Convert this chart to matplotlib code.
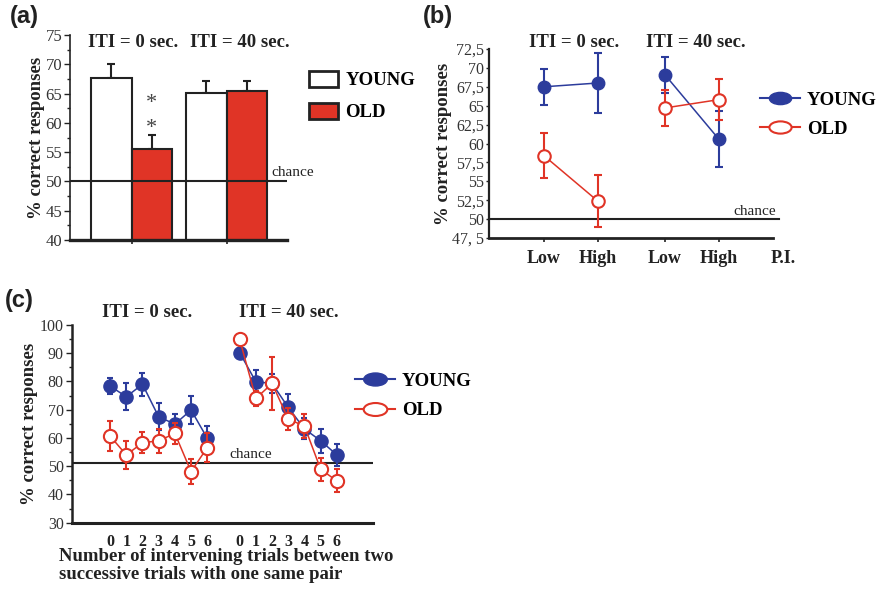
import numpy as np
import matplotlib
matplotlib.use('Agg')
import matplotlib.pyplot as plt
from matplotlib.path import Path
from matplotlib.transforms import Affine2D
from matplotlib.lines import Line2D
from matplotlib.patches import Patch

plt.rcParams['font.family'] = ['Liberation Serif', 'DejaVu Serif']

BLUE = '#2c3c9c'
RED = '#e03426'
INK = '#222222'

iti_titles = ['ITI = 0 sec.', 'ITI = 40 sec.']

# (a) overall % correct per ITI condition
bar_young = [67.7, 65.1]
bar_young_err = [2.4, 2.1]
bar_old = [55.6, 65.4]
bar_old_err = [2.3, 1.8]

# (b) low / high proactive interference
pi_labels = ['Low', 'High', 'Low', 'High']
pi_young = [67.5, 68.0, 69.1, 60.6]
pi_young_err = [2.4, 4.0, 2.4, 3.7]
pi_old = [58.4, 52.4, 64.7, 65.8]
pi_old_err = [3.0, 3.4, 2.4, 2.7]
pi_yticks = [47.5, 50, 52.5, 55, 57.5, 60, 62.5, 65, 67.5, 70, 72.5]
pi_ylabels = ['47, 5', '50', '52,5', '55', '57,5', '60', '62,5', '65',
              '67,5', '70', '72,5']

# (c) by number of intervening trials
lag = [0, 1, 2, 3, 4, 5, 6]
young_0 = [78.4, 74.6, 79.0, 67.5, 64.9, 69.9, 59.9]
young_0_err = [3.0, 4.7, 4.0, 4.8, 3.5, 5.0, 4.3]
old_0 = [60.7, 54.0, 58.3, 59.0, 61.6, 48.1, 56.6]
old_0_err = [5.3, 5.0, 3.7, 4.3, 3.8, 4.5, 5.0]
young_40 = [90.2, 79.9, 79.3, 70.8, 63.2, 59.0, 54.0]
young_40_err = [1.5, 4.2, 3.4, 4.7, 3.7, 4.2, 4.0]
old_40 = [94.9, 74.0, 79.3, 66.7, 64.2, 48.9, 44.8]
old_40_err = [1.5, 2.6, 9.5, 3.9, 4.3, 4.0, 4.1]

chance_a = 50
chance_b = 50
chance_c = 51

# wide ellipse used as legend marker
ellipse = Path.unit_circle().transformed(Affine2D().scale(1.0, 0.55))

fig = plt.figure(figsize=(8.78, 5.91), dpi=100)


def style_axes(ax, lw_left, lw_bottom):
    for s in ['top', 'right']:
        ax.spines[s].set_visible(False)
    ax.spines['left'].set_linewidth(lw_left)
    ax.spines['bottom'].set_linewidth(lw_bottom)
    ax.spines['left'].set_color(INK)
    ax.spines['bottom'].set_color(INK)


bold = dict(fontweight='bold', fontsize=13.5, color=INK)

# ---------------- (a) ----------------
ax = fig.add_axes([70/878, 1-240/591, 217/878, 205/591])
style_axes(ax, 1.2, 2.4)
xa_young = [1, 3.35]
xa_old = [2, 4.35]
ax.bar(xa_young, bar_young, width=1, bottom=0, color='white', edgecolor=INK,
       linewidth=1.5, zorder=2)
ax.bar(xa_old, bar_old, width=1, color=RED, edgecolor=INK, linewidth=1.5, zorder=2)
ax.errorbar(xa_young, bar_young, yerr=[[0, 0], bar_young_err], fmt='none',
            ecolor=INK, elinewidth=1.5, capsize=3, capthick=1.5, zorder=1)
ax.errorbar(xa_old, bar_old, yerr=[[0, 0], bar_old_err], fmt='none',
            ecolor=INK, elinewidth=1.5, capsize=3, capthick=1.5, zorder=1)
ax.axhline(chance_a, color=INK, lw=1.5, zorder=3)
ax.set_xlim(-0.02, 5.34)
ax.set_ylim(40, 75)
ax.set_yticks(np.arange(40, 76, 5))
ax.set_yticks(np.arange(42.5, 75, 5), minor=True)
ax.set_xticks([1.5, 3.85])
ax.set_xticklabels([])
ax.tick_params(axis='y', which='major', length=4, width=1, pad=1.5,
               labelsize=12, labelcolor='#333333', color=INK)
ax.tick_params(axis='y', which='minor', length=2.5, width=1, color=INK)
ax.tick_params(axis='x', length=3, width=1.2, color=INK)
ax.set_ylabel('% correct responses', fontweight='bold', fontsize=13.5,
              color=INK, labelpad=0.5)
ax.text(0.29, 0.965, iti_titles[0], transform=ax.transAxes, ha='center',
        va='center', **bold)
ax.text(0.783, 0.965, iti_titles[1], transform=ax.transAxes, ha='center',
        va='center', **bold)
ax.text(0.93, chance_a + 0.4, 'chance', transform=ax.get_yaxis_transform(),
        ha='left', va='bottom', fontsize=11, color=INK)
for ys in [0.665, 0.545]:
    ax.text(0.375, ys, '*', transform=ax.transAxes, ha='center', va='center',
            fontsize=16, color='#444444')
ax.legend(handles=[Patch(facecolor='white', edgecolor=INK, lw=2, label='YOUNG'),
                   Patch(facecolor=RED, edgecolor=INK, lw=2, label='OLD')],
          loc='upper left', bbox_to_anchor=(1.1, 0.825), frameon=False,
          borderpad=0, borderaxespad=0, handlelength=1.55, handleheight=0.95,
          handletextpad=0.4, labelspacing=0.7,
          prop=dict(weight='bold', size=13.5))
fig.text(10/878, 1-17/591, '(a)', family='Liberation Sans', fontweight='bold',
         fontsize=17, va='center', ha='left', color=INK)

# ---------------- (b) ----------------
ax = fig.add_axes([489/878, 1-238/591, 284/878, 189/591])
style_axes(ax, 1.6, 2.0)
xb = [1, 2, 3.25, 4.25]
for sl in [slice(0, 2), slice(2, 4)]:
    ax.errorbar(xb[sl], pi_young[sl], yerr=pi_young_err[sl], color=BLUE,
                lw=1.1, marker='o', ms=9, mfc=BLUE, mec=BLUE, elinewidth=1.5,
                capsize=3, capthick=1.5, zorder=3)
    ax.errorbar(xb[sl], pi_old[sl], yerr=pi_old_err[sl], color=RED,
                lw=1.1, marker='o', ms=9, mfc='white', mec=RED, mew=1.5,
                elinewidth=1.5, capsize=3, capthick=1.5, zorder=4)
ax.axhline(chance_b, xmin=0, xmax=1.02, color=INK, lw=1.5, clip_on=False)
ax.set_xlim(-0.02, 5.26)
ax.set_ylim(47.5, 72.5)
ax.set_yticks(pi_yticks)
ax.set_yticklabels(pi_ylabels)
ax.set_xticks(xb)
ax.set_xticklabels(pi_labels, fontweight='bold', fontsize=13)
ax.tick_params(axis='y', length=2.5, width=1, pad=1, labelsize=11.5,
               labelcolor='#333333', color=INK)
ax.tick_params(axis='x', length=3, width=1.2, pad=6, labelcolor=INK, color=INK)
ax.set_ylabel('% correct responses', fontweight='bold', fontsize=13.5,
              color=INK, labelpad=0)
ax.text(1.035, -0.11, 'P.I.', transform=ax.transAxes, ha='center',
        va='center', fontweight='bold', fontsize=13, color=INK)
ax.text(0.30, 1.037, iti_titles[0], transform=ax.transAxes, ha='center',
        va='center', **bold)
ax.text(0.729, 1.037, iti_titles[1], transform=ax.transAxes, ha='center',
        va='center', **bold)
ax.text(1.01, chance_b + 0.1, 'chance', transform=ax.get_yaxis_transform(),
        ha='right', va='bottom', fontsize=11, color=INK)
ax.legend(handles=[Line2D([], [], color=BLUE, lw=1.5, marker=ellipse, ms=16,
                          mfc=BLUE, mec=BLUE, label='YOUNG'),
                   Line2D([], [], color=RED, lw=1.5, marker=ellipse, ms=16,
                          mfc='white', mec=RED, mew=1.5, label='OLD')],
          loc='upper left', bbox_to_anchor=(0.954, 0.775), frameon=False,
          borderpad=0, borderaxespad=0, handlelength=2.15,
          handletextpad=0.35, labelspacing=0.65,
          prop=dict(weight='bold', size=13.5))
fig.text(423/878, 1-17/591, '(b)', family='Liberation Sans', fontweight='bold',
         fontsize=17, va='center', ha='left', color=INK)

# ---------------- (c) ----------------
ax = fig.add_axes([72/878, 1-522.7/591, 301/878, 197.7/591])
style_axes(ax, 1.8, 2.2)
x0 = np.array(lag)
x40 = np.array(lag) + 8
for xs, yv, ye in [(x0, young_0, young_0_err), (x40, young_40, young_40_err)]:
    ax.errorbar(xs, yv, yerr=ye, color=BLUE, lw=1.1, marker='o', ms=9.5,
                mfc=BLUE, mec=BLUE, elinewidth=1.5, capsize=2.5,
                capthick=1.5, zorder=3)
for xs, yv, ye in [(x0, old_0, old_0_err), (x40, old_40, old_40_err)]:
    ax.errorbar(xs, yv, yerr=ye, color=RED, lw=1.1, marker='o', ms=9.5,
                mfc='white', mec=RED, mew=1.5, elinewidth=1.5, capsize=2.5,
                capthick=1.5, zorder=4)
ax.axhline(chance_c, color=INK, lw=1.5, zorder=2)
ax.set_xlim(-2.35, 16.23)
ax.set_ylim(30, 100)
ax.set_yticks(np.arange(30, 101, 10))
ax.set_yticks(np.arange(35, 100, 10), minor=True)
ax.set_xticks(np.concatenate([x0, x40]))
ax.set_xticklabels([str(v) for v in lag + lag], fontweight='bold', fontsize=11.5)
ax.tick_params(axis='y', which='major', length=4, width=1, pad=2,
               labelsize=11.5, labelcolor='#333333', color=INK)
ax.tick_params(axis='y', which='minor', length=2.5, width=1, color=INK)
ax.tick_params(axis='x', length=0, pad=8, labelcolor=INK)
ax.set_ylabel('% correct responses', fontweight='bold', fontsize=13.5,
              color=INK, labelpad=1)
ax.text(-0.043, -0.13, 'Number of intervening trials between two\n'
        'successive trials with one same pair', transform=ax.transAxes,
        ha='left', va='top', linespacing=1.05, **bold)
ax.text(0.249, 1.061, iti_titles[0], transform=ax.transAxes, ha='center',
        va='center', **bold)
ax.text(0.721, 1.061, iti_titles[1], transform=ax.transAxes, ha='center',
        va='center', **bold)
ax.text(0.595, chance_c + 0.8, 'chance', transform=ax.get_yaxis_transform(),
        ha='center', va='bottom', fontsize=11, color=INK)
ax.legend(handles=[Line2D([], [], color=BLUE, lw=1.5, marker=ellipse, ms=17,
                          mfc=BLUE, mec=BLUE, label='YOUNG'),
                   Line2D([], [], color=RED, lw=1.5, marker=ellipse, ms=17,
                          mfc='white', mec=RED, mew=1.5, label='OLD')],
          loc='upper left', bbox_to_anchor=(0.94, 0.758), frameon=False,
          borderpad=0, borderaxespad=0, handlelength=2.15,
          handletextpad=0.35, labelspacing=0.65,
          prop=dict(weight='bold', size=13.5))
fig.text(5/878, 1-301/591, '(c)', family='Liberation Sans', fontweight='bold',
         fontsize=17, va='center', ha='left', color=INK)

fig.savefig('out.png', dpi=100)
